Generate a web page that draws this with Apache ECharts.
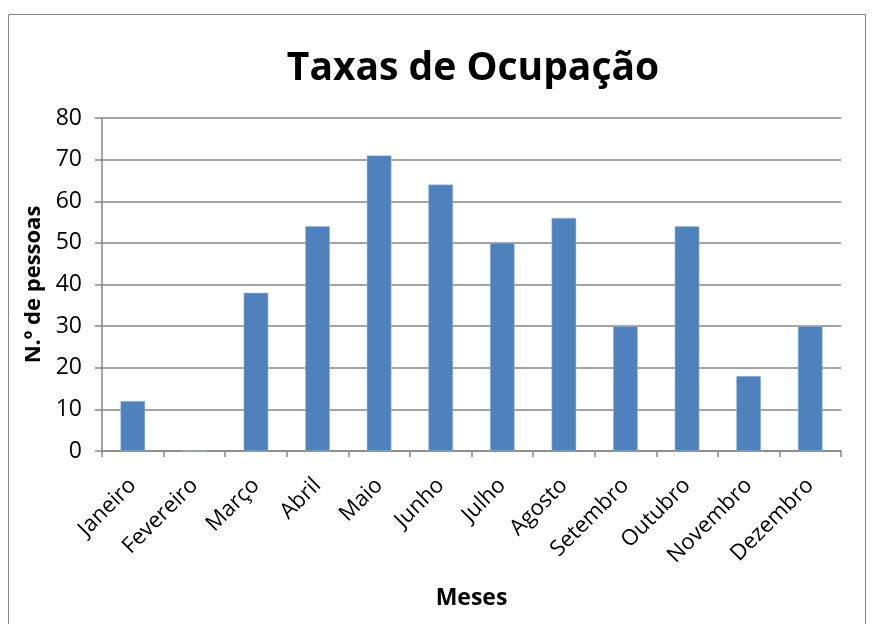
<!DOCTYPE html>
<html>
<head>
<meta charset="utf-8">
<script src="https://cdn.jsdelivr.net/npm/echarts@6/dist/echarts.min.js"></script>
<style>
  html, body { margin: 0; padding: 0; background: #ffffff; }
  #myChart { width: 872px; height: 624px; }
</style>
</head>
<body>
<div id="myChart"></div>
<script>
// dados
const meses = ['Janeiro', 'Fevereiro', 'Março', 'Abril', 'Maio', 'Junho',
  'Julho', 'Agosto', 'Setembro', 'Outubro', 'Novembro', 'Dezembro']
const pessoas = [12, 0, 38, 54, 71, 64, 50, 56, 30, 54, 18, 30]
const yTicks = [0, 10, 20, 30, 40, 50, 60, 70, 80]

const fonte = '"Open Sans", "Noto Sans", sans-serif'
let myChart = echarts.init(document.getElementById('myChart'))
myChart.setOption({
  animation: false,
  textStyle: { fontFamily: fonte },
  graphic: [{
    type: 'rect',
    shape: { x: 8.5, y: 14.5, width: 857, height: 640 },
    style: { fill: 'none', stroke: '#868686', lineWidth: 1 }
  }],
  title: {
    text: 'Taxas de Ocupação',
    left: 468,
    textAlign: 'center',
    top: 44,
    textStyle: { fontSize: 39, fontWeight: 'bold', color: '#000', fontFamily: fonte }
  },
  grid: { left: 102, right: 31, top: 118, bottom: 173 },
  xAxis: {
    type: 'category',
    data: meses,
    name: 'Meses',
    nameLocation: 'middle',
    nameGap: 136,
    nameTextStyle: { fontSize: 23, fontWeight: 'bold', color: '#000' },
    axisLine: { lineStyle: { color: '#868686', width: 1.5 } },
    axisTick: { show: true, length: 6, lineStyle: { color: '#868686', width: 1.5 } },
    axisLabel: { rotate: 45, fontSize: 22, color: '#000', margin: 31 }
  },
  yAxis: {
    type: 'value',
    min: yTicks[0],
    max: yTicks[yTicks.length - 1],
    interval: 10,
    name: 'N.º de pessoas',
    nameLocation: 'middle',
    nameGap: 55,
    nameTextStyle: { fontSize: 22, fontWeight: 'bold', color: '#000' },
    axisLine: { show: true, lineStyle: { color: '#868686', width: 1.5 } },
    axisTick: { show: true, length: 7, lineStyle: { color: '#868686', width: 1.5 } },
    axisLabel: { fontSize: 23, color: '#000', margin: 20 },
    splitLine: { lineStyle: { color: '#868686', width: 1.5 } }
  },
  series: [{
    type: 'bar',
    data: pessoas,
    barWidth: '40%',
    itemStyle: { color: '#4f81bd', borderColor: '#a7c0de', borderWidth: 0.5 }
  }]
})
</script>
</body>
</html>
